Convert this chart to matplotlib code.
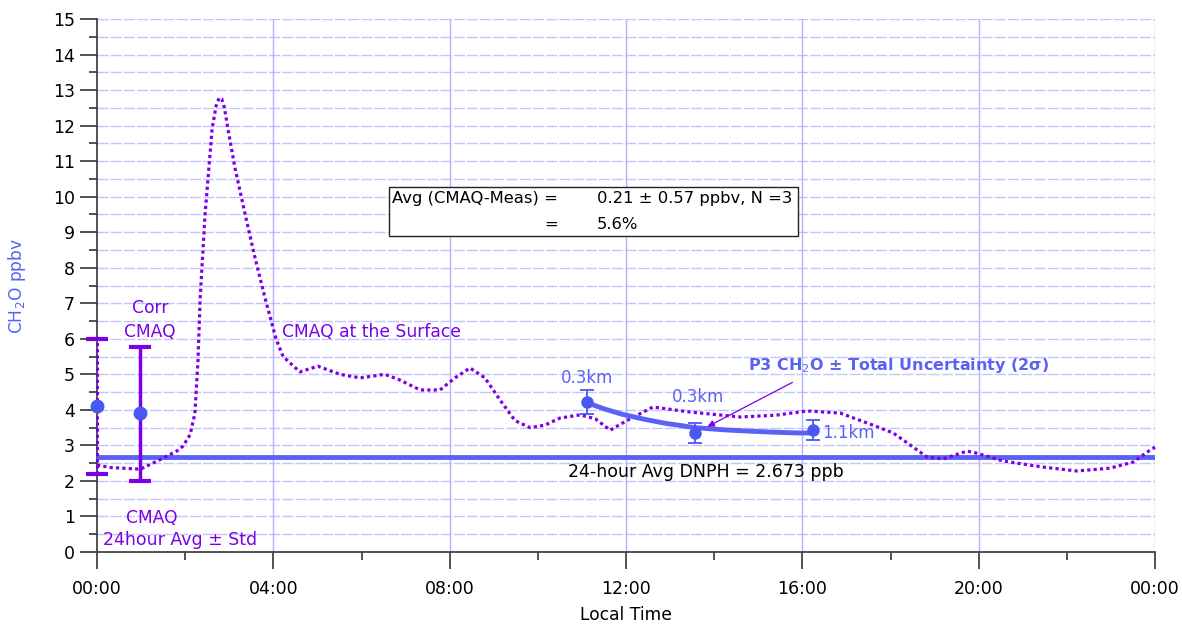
import matplotlib
matplotlib.use("Agg")
import matplotlib.pyplot as plt
from matplotlib.patches import Rectangle
from matplotlib.ticker import MultipleLocator

# ---------------- data ----------------
cmaq_hours = [0.0, 0.29, 0.98, 1.43, 1.82, 1.95, 2.11, 2.22, 2.29, 2.34, 2.45, 2.61, 2.7, 2.77,
              2.83, 2.89, 2.97, 3.13, 3.36, 3.58, 3.81, 4.06, 4.22, 4.6, 5.01, 5.51, 5.97, 6.53,
              6.87, 7.33, 7.78, 8.12, 8.46, 8.8, 9.14, 9.48, 9.82, 10.16, 10.5, 10.96,
              11.3, 11.64, 12.02, 12.61, 13.45, 14.59, 15.4, 16.11, 16.86, 17.6, 18.06,
              18.38, 18.83, 19.19, 19.74, 19.96, 20.55, 21.46, 22.23, 22.98, 23.5, 23.89, 24.0]
cmaq_vals = [2.45, 2.38, 2.33, 2.6, 2.85, 2.98, 3.3, 3.9, 5.4, 7.15, 9.5, 11.9, 12.55, 12.78,
             12.75, 12.5, 11.9, 10.8, 9.5, 8.3, 7.15, 6.0, 5.5, 5.07, 5.23, 5.0, 4.9, 5.0,
             4.84, 4.56, 4.56, 4.9, 5.18, 4.9, 4.28, 3.7, 3.5, 3.57, 3.77, 3.86,
             3.75, 3.43, 3.7, 4.08, 3.94, 3.8, 3.85, 3.97, 3.91, 3.57, 3.35,
             3.07, 2.67, 2.62, 2.84, 2.78, 2.56, 2.39, 2.28, 2.36, 2.53, 2.87, 2.95]

# CMAQ 24-hour averages with error bars
avg_hours = [0.0, 0.98]
avg_vals = [4.1, 3.9]
avg_lo = [2.2, 2.0]
avg_hi = [6.0, 5.78]

# P3 measurements
p3_hours = [11.12, 13.57, 16.24]
p3_vals = [4.22, 3.35, 3.43]
p3_err = [0.34, 0.27, 0.28]
p3_alt = ["0.3km", "0.3km", "1.1km"]

# P3 fit curve
fit_hours = [11.12, 11.5, 11.9, 12.4, 12.9, 13.57, 14.2, 14.8, 15.4, 15.9, 16.24]
fit_vals = [4.20, 4.03, 3.88, 3.74, 3.62, 3.50, 3.44, 3.40, 3.37, 3.35, 3.35]

dnph_avg = 2.673

xtick_labels = ["00:00", "04:00", "08:00", "12:00", "16:00", "20:00", "00:00"]

# ---------------- style ----------------
purple = "#7a00e8"
blue = "#5a62f4"
dotblue = "#4a58f2"
grid_blue = "#c4c4ff"

plt.rcParams["font.family"] = ["DejaVu Sans"]

fig = plt.figure(figsize=(11.82, 6.27), dpi=100)
ax = fig.add_axes([0.0821, 0.1196, 0.8951, 0.8501])
ax.set_xlim(0, 24)
ax.set_ylim(0, 15)

# grid
for yv in [i * 0.5 for i in range(1, 31)]:
    ax.axhline(yv, color=grid_blue, lw=1.0, ls=(0, (8, 1.5)), zorder=0)
for xv in range(4, 25, 4):
    ax.axvline(xv, color="#b0b4ff", lw=1.0, zorder=0)

# DNPH average line
ax.axhline(dnph_avg, color=blue, lw=3.5, zorder=2)
ax.text(13.8, 2.25, "24-hour Avg DNPH = 2.673 ppb", ha="center", va="center",
        fontsize=12.5, color="black")

# CMAQ surface
ax.plot(cmaq_hours, cmaq_vals, color=purple, lw=2.3, ls=(0, (1, 1)), zorder=3, clip_on=False)
ax.text(4.2, 6.2, "CMAQ at the Surface", ha="left", va="center", fontsize=12.3, color=purple)

# CMAQ averages with error bars
e0 = ax.errorbar([avg_hours[0]], [avg_vals[0]],
                 yerr=[[avg_vals[0] - avg_lo[0]], [avg_hi[0] - avg_vals[0]]],
                 fmt="none", ecolor=purple, elinewidth=2.2, capsize=8, capthick=3,
                 zorder=4, clip_on=False)
for lc in e0[2]:
    lc.set_linestyle((0, (1, 1)))
ax.errorbar([avg_hours[1]], [avg_vals[1]],
            yerr=[[avg_vals[1] - avg_lo[1]], [avg_hi[1] - avg_vals[1]]],
            fmt="none", ecolor=purple, elinewidth=2.5, capsize=8, capthick=3,
            zorder=4, clip_on=False)
ax.plot(avg_hours, avg_vals, "o", color=dotblue, ms=9, zorder=5, clip_on=False, ls="none")

ax.text(1.2, 6.87, "Corr", ha="center", va="center", fontsize=12.3, color=purple)
ax.text(1.2, 6.2, "CMAQ", ha="center", va="center", fontsize=12.3, color=purple)
ax.text(1.25, 0.96, "CMAQ", ha="center", va="center", fontsize=12.3, color=purple)
ax.text(1.88, 0.34, "24hour Avg \u00b1 Std", ha="center", va="center", fontsize=12.5, color=purple)

# P3 fit + points
ax.plot(fit_hours, fit_vals, color=blue, lw=3.5, zorder=5, solid_capstyle="round")
ax.errorbar(p3_hours, p3_vals, yerr=p3_err, fmt="o", color=dotblue, ms=8,
            ecolor=dotblue, elinewidth=1.3, capsize=5, capthick=1.3, zorder=6)
ax.text(p3_hours[0], 4.9, p3_alt[0], ha="center", va="center", fontsize=12, color=blue)
ax.text(13.63, 4.36, p3_alt[1], ha="center", va="center", fontsize=12, color=blue)
ax.text(16.45, 3.35, p3_alt[2], ha="left", va="center", fontsize=12, color=blue)

ax.text(14.77, 5.24, "P3 CH$_2$O \u00b1 Total Uncertainty (2\u03c3)", ha="left", va="center",
        fontsize=11.5, color=blue, fontweight="bold")
ax.annotate("", xy=(13.79, 3.49), xytext=(15.83, 4.81),
            arrowprops=dict(arrowstyle="-|>", color=purple, lw=0.9,
                            mutation_scale=10), zorder=7)

# stats box
ax.add_patch(Rectangle((6.62, 8.9), 9.28, 1.38, facecolor="white", edgecolor="#222222",
                       lw=1.0, zorder=6))
ax.text(6.68, 9.94, "Avg (CMAQ-Meas) =", ha="left", va="center", fontsize=11.8, zorder=7)
ax.text(11.34, 9.94, "0.21 \u00b1 0.57 ppbv, N =3", ha="left", va="center", fontsize=11.8, zorder=7)
ax.text(10.15, 9.23, "=", ha="left", va="center", fontsize=11.8, zorder=7)
ax.text(11.34, 9.23, "5.6%", ha="left", va="center", fontsize=11.8, zorder=7)

# axes styling
for s in ["top", "right"]:
    ax.spines[s].set_visible(False)
for s in ["left", "bottom"]:
    ax.spines[s].set_color("#444444")
    ax.spines[s].set_linewidth(1.3)
ax.spines["left"].set_zorder(1)

ax.set_xticks(range(0, 25, 4))
ax.set_xticklabels(xtick_labels)
ax.xaxis.set_minor_locator(MultipleLocator(2))
ax.yaxis.set_major_locator(MultipleLocator(1))
ax.yaxis.set_minor_locator(MultipleLocator(0.5))
ax.tick_params(which="major", direction="out", length=12, width=1.2, color="#333333",
               labelsize=12.5, pad=4)
ax.tick_params(which="minor", direction="out", length=6, width=1.2, color="#333333")
ax.tick_params(axis="x", which="major", pad=8)

ax.set_xlabel("Local Time", fontsize=12.3, labelpad=6)
ax.set_ylabel("CH$_2$O ppbv", fontsize=12.3, color=blue, labelpad=18)

fig.savefig("out.png", dpi=100)
